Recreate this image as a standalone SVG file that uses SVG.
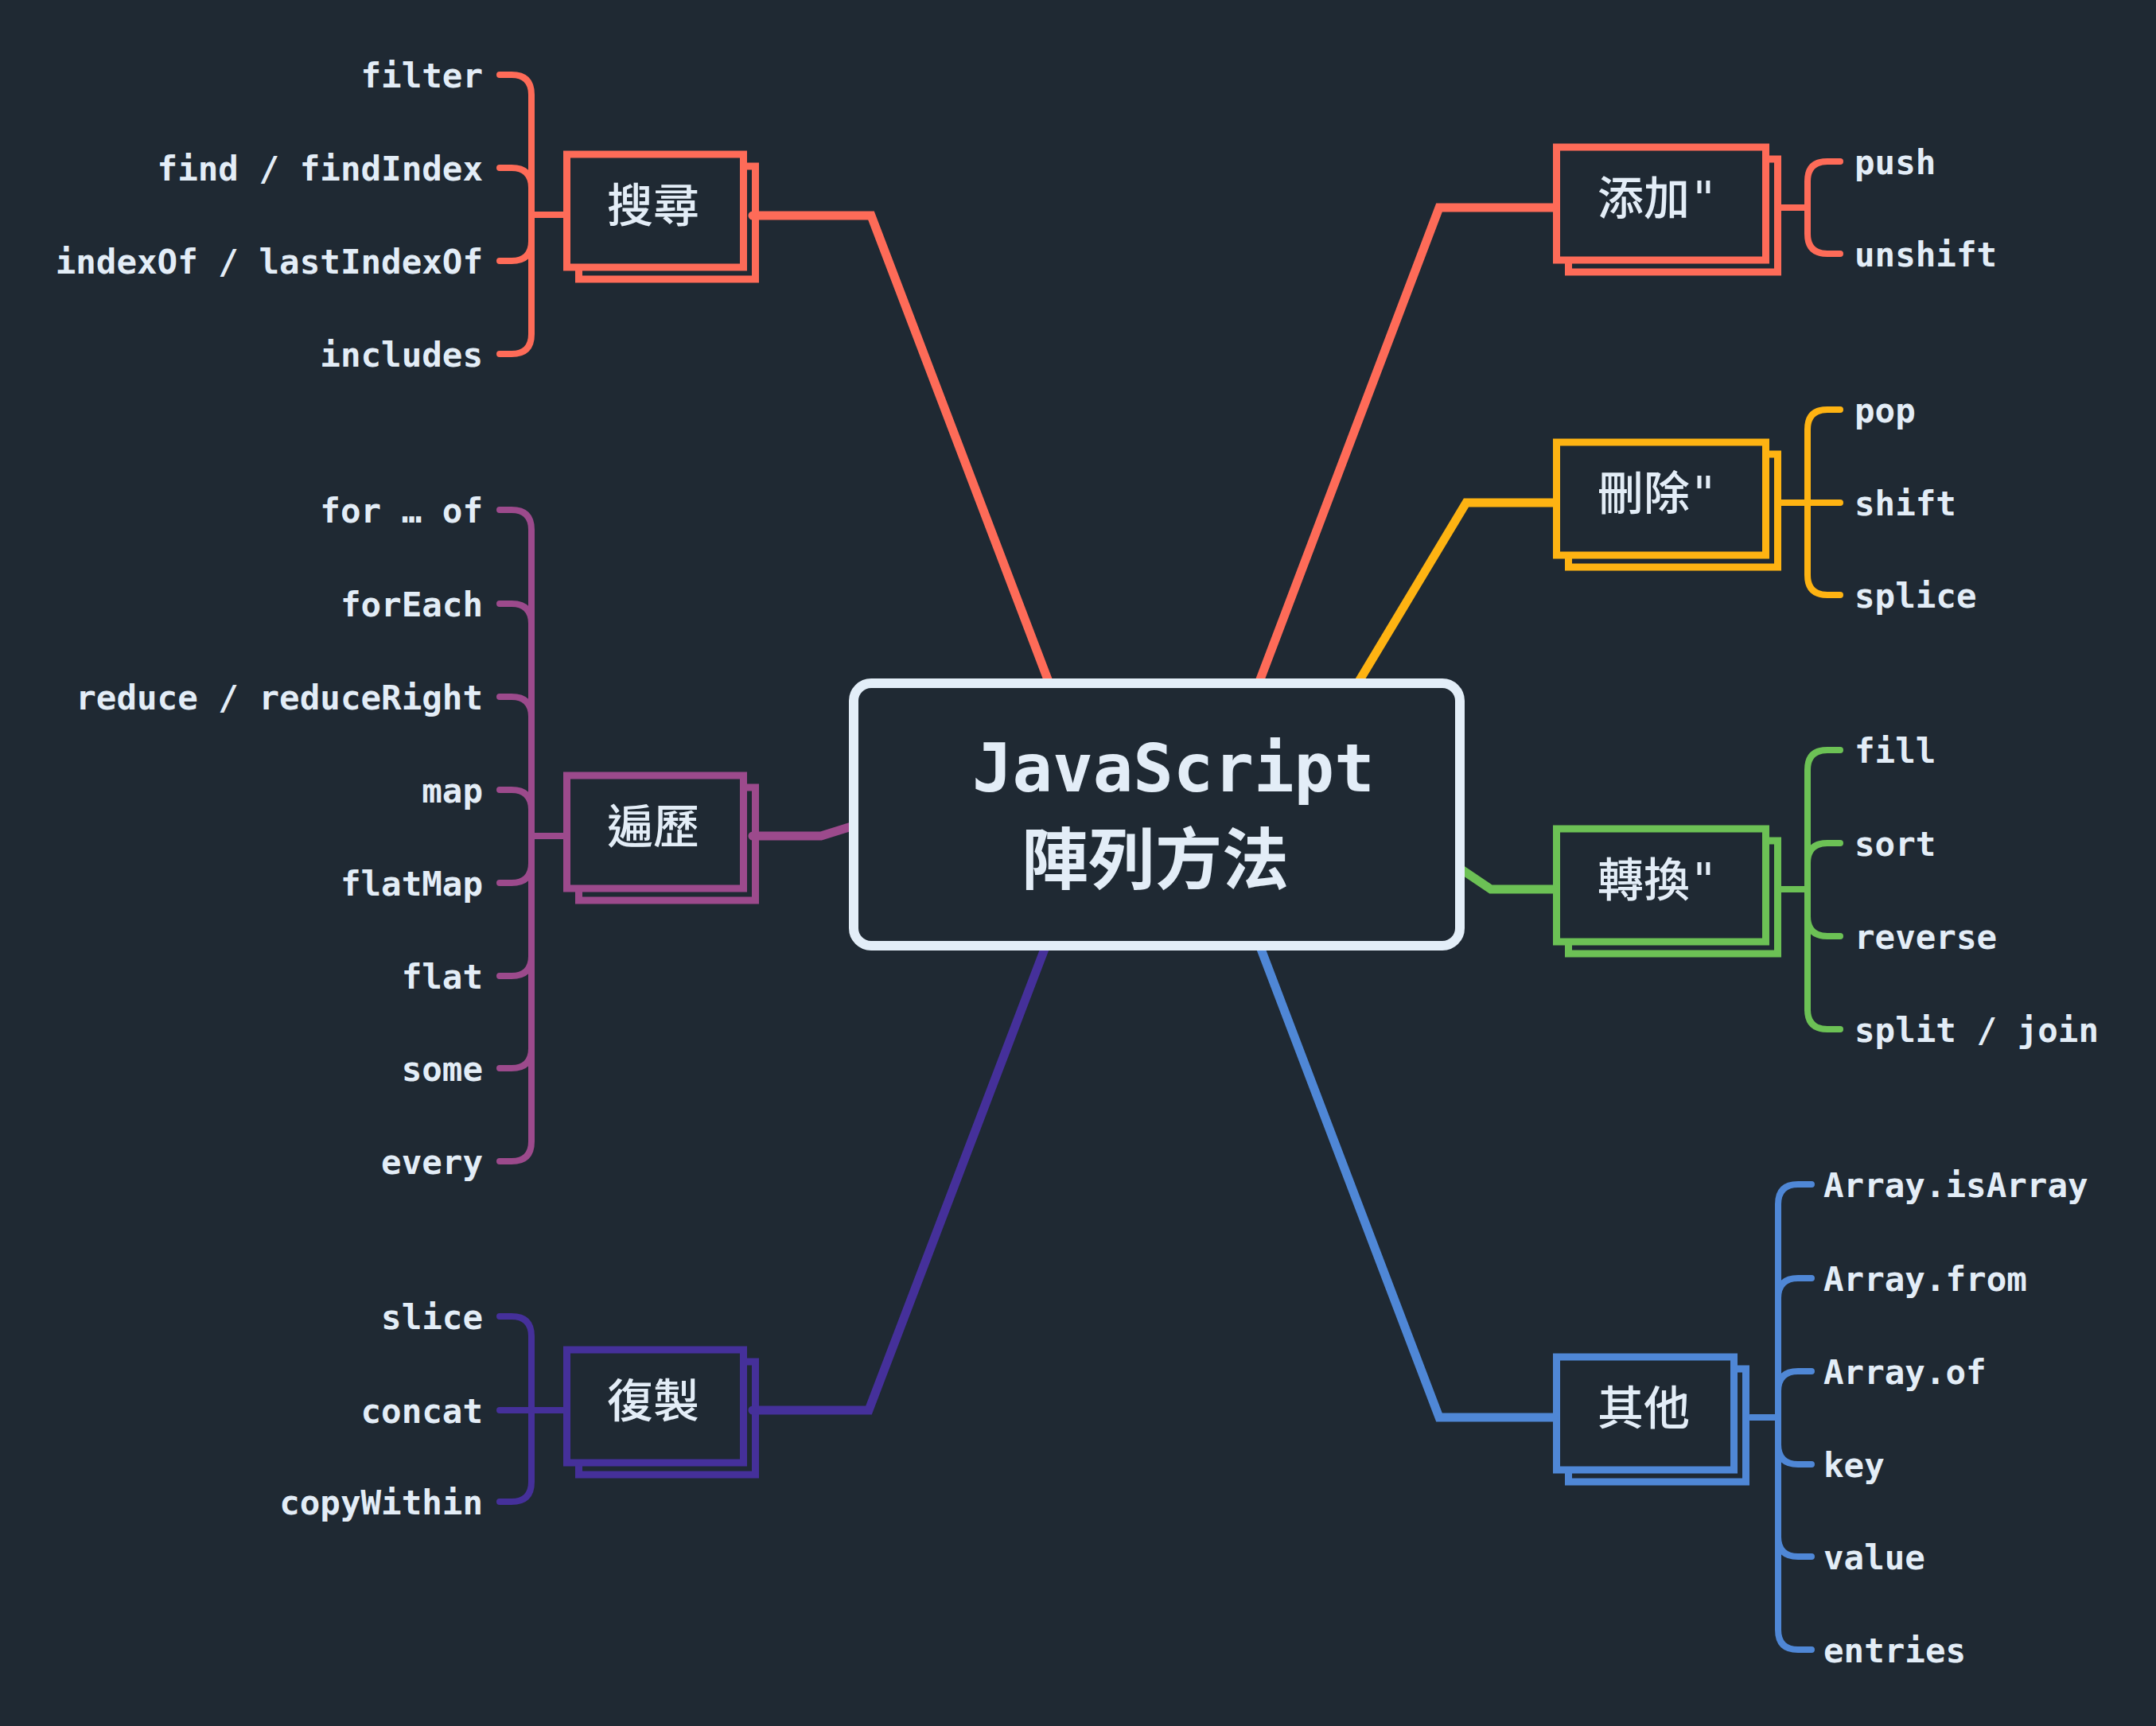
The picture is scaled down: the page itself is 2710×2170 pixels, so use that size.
<svg xmlns="http://www.w3.org/2000/svg" width="2710" height="2170" viewBox="0 0 2710 2170">
<style>
.leaf{font-family:"DejaVu Sans Mono","Liberation Mono",monospace;font-weight:bold;font-size:42.5px;fill:#e3edf7}
.end{text-anchor:end}
.lbl{font-family:"DejaVu Sans Mono","Noto Sans CJK TC",monospace;font-weight:500;font-size:58px;fill:#e3edf7}
.title{font-family:"DejaVu Sans Mono","Noto Sans CJK TC",monospace;font-weight:bold;font-size:84px;fill:#e3edf7}
.box{fill:#1f2933;stroke-width:9}
.main{fill:none;stroke-width:11;stroke-linecap:round;stroke-linejoin:miter}
.sub{fill:none;stroke-width:8;stroke-linecap:round;stroke-linejoin:round}
.red{stroke:#fe6b58}.yel{stroke:#feb312}.grn{stroke:#6cc155}.pur{stroke:#9c4a8c}.ind{stroke:#45309a}.blu{stroke:#4f87d6}
</style>
<rect width="2710" height="2170" fill="#1f2933"/>

<g id="node-search">
<rect class="box red" x="727.5" y="209" width="222" height="142"/>
<rect class="box red" x="712.5" y="194" width="222" height="142"/>
<text class="lbl" x="763" y="278.5">搜尋</text>
</g>
<g id="node-iterate">
<rect class="box pur" x="727.5" y="990" width="222" height="142"/>
<rect class="box pur" x="712.5" y="975" width="222" height="142"/>
<text class="lbl" x="763" y="1059.5">遍歷</text>
</g>
<g id="node-copy">
<rect class="box ind" x="727.5" y="1712" width="222" height="142"/>
<rect class="box ind" x="712.5" y="1697" width="222" height="142"/>
<text class="lbl" x="763" y="1781.5">復製</text>
</g>
<g id="node-add">
<rect class="box red" x="1971.5" y="200" width="263" height="142"/>
<rect class="box red" x="1956.5" y="185" width="263" height="142"/>
<text class="lbl" x="2008" y="269.5">添加"</text>
</g>
<g id="node-delete">
<rect class="box yel" x="1971.5" y="571" width="263" height="142"/>
<rect class="box yel" x="1956.5" y="556" width="263" height="142"/>
<text class="lbl" x="2008" y="640.5">刪除"</text>
</g>
<g id="node-transform">
<rect class="box grn" x="1971.5" y="1057" width="263" height="142"/>
<rect class="box grn" x="1956.5" y="1042" width="263" height="142"/>
<text class="lbl" x="2008" y="1126.5">轉換"</text>
</g>
<g id="node-other">
<rect class="box blu" x="1971.5" y="1721" width="223" height="142"/>
<rect class="box blu" x="1956.5" y="1706" width="223" height="142"/>
<text class="lbl" x="2008" y="1790.5">其他</text>
</g>

<g id="leaves">
<text class="leaf end" x="607" y="110">filter</text>
<text class="leaf end" x="607" y="227">find / findIndex</text>
<text class="leaf end" x="607" y="344">indexOf / lastIndexOf</text>
<text class="leaf end" x="607" y="461">includes</text>
<text class="leaf end" x="607" y="657">for … of</text>
<text class="leaf end" x="607" y="775">forEach</text>
<text class="leaf end" x="607" y="892">reduce / reduceRight</text>
<text class="leaf end" x="607" y="1009">map</text>
<text class="leaf end" x="607" y="1126">flatMap</text>
<text class="leaf end" x="607" y="1243">flat</text>
<text class="leaf end" x="607" y="1359">some</text>
<text class="leaf end" x="607" y="1476">every</text>
<text class="leaf end" x="607" y="1671">slice</text>
<text class="leaf end" x="607" y="1789">concat</text>
<text class="leaf end" x="607" y="1904">copyWithin</text>
<text class="leaf" x="2331" y="219">push</text>
<text class="leaf" x="2331" y="335">unshift</text>
<text class="leaf" x="2331" y="531">pop</text>
<text class="leaf" x="2331" y="648">shift</text>
<text class="leaf" x="2331" y="764">splice</text>
<text class="leaf" x="2331" y="959">fill</text>
<text class="leaf" x="2331" y="1076">sort</text>
<text class="leaf" x="2331" y="1193">reverse</text>
<text class="leaf" x="2331" y="1310">split / join</text>
<text class="leaf" x="2292" y="1505">Array.isArray</text>
<text class="leaf" x="2292" y="1623">Array.from</text>
<text class="leaf" x="2292" y="1740">Array.of</text>
<text class="leaf" x="2292" y="1857">key</text>
<text class="leaf" x="2292" y="1973">value</text>
<text class="leaf" x="2292" y="2090">entries</text>
</g>

<g id="connectors">
<path class="main red" d="M946 271 H1095 L1323 870"/>
<path class="main pur" d="M946 1051 H1032 L1080 1036"/>
<path class="main ind" d="M946 1773 H1092 L1318 1180"/>
<path class="main red" d="M1952 261 H1809 L1578 870"/>
<path class="main yel" d="M1952 632 H1843 L1697 875"/>
<path class="main grn" d="M1952 1118 H1874 L1825 1085"/>
<path class="main blu" d="M1952 1782 H1809 L1580 1180"/>

<path class="sub red" d="M628 94 H643 Q668 94 668 119 V270 M628 211 H643 Q668 211 668 236 V270 M628 328 H643 Q668 328 668 303 V270 M628 445 H643 Q668 445 668 420 V270 M668 270 H708"/>
<path class="sub pur" d="M628 641 H643 Q668 641 668 666 V1051 M628 759 H643 Q668 759 668 784 V1051 M628 876 H643 Q668 876 668 901 V1051 M628 993 H643 Q668 993 668 1018 V1051 M628 1110 H643 Q668 1110 668 1085 V1051 M628 1227 H643 Q668 1227 668 1202 V1051 M628 1343 H643 Q668 1343 668 1318 V1051 M628 1460 H643 Q668 1460 668 1435 V1051 M668 1051 H708"/>
<path class="sub ind" d="M628 1655 H643 Q668 1655 668 1680 V1773 M628 1773 H708 M628 1888 H643 Q668 1888 668 1863 V1773"/>
<path class="sub red" d="M2313 203 H2297 Q2272 203 2272 228 V261 M2313 319 H2297 Q2272 319 2272 294 V261 M2238 261 H2272"/>
<path class="sub yel" d="M2313 515 H2297 Q2272 515 2272 540 V632 M2313 632 H2238 M2313 748 H2297 Q2272 748 2272 723 V632"/>
<path class="sub grn" d="M2313 943 H2297 Q2272 943 2272 968 V1118 M2313 1060 H2297 Q2272 1060 2272 1085 V1118 M2313 1177 H2297 Q2272 1177 2272 1152 V1118 M2313 1294 H2297 Q2272 1294 2272 1269 V1118 M2238 1118 H2272"/>
<path class="sub blu" d="M2277 1489 H2260 Q2235 1489 2235 1514 V1782 M2277 1607 H2260 Q2235 1607 2235 1632 V1782 M2277 1724 H2260 Q2235 1724 2235 1749 V1782 M2277 1841 H2260 Q2235 1841 2235 1816 V1782 M2277 1957 H2260 Q2235 1957 2235 1932 V1782 M2277 2074 H2260 Q2235 2074 2235 2049 V1782 M2200 1782 H2235"/>
</g>

<g id="node-center">
<rect x="1073" y="859" width="762" height="330" rx="22" fill="#1f2933" stroke="#e3eef8" stroke-width="12"/>
<text class="title" x="1222" y="995">JavaScript</text>
<text class="title" x="1284" y="1111">陣列方法</text>
</g>
</svg>
